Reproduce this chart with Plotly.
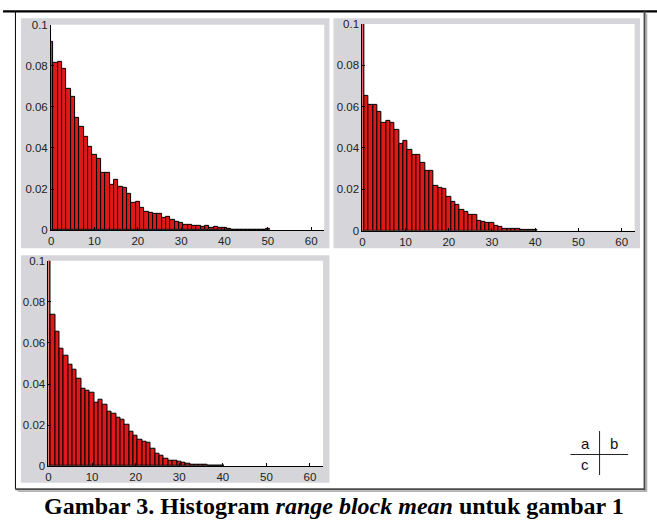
import plotly.graph_objects as go

W, H = 657, 524

# ---------------- data ----------------
bins = list(range(64))
x_ticks = [0, 10, 20, 30, 40, 50, 60]
x_ticktext = ["0", "10", "20", "30", "40", "50", "60"]
y_ticks = [0, 0.02, 0.04, 0.06, 0.08, 0.1]
y_ticktext = ["0", "0.02", "0.04", "0.06", "0.08", "0.1"]

hist_a = [0.0917, 0.0814, 0.0819, 0.0786, 0.0686, 0.0648, 0.0549, 0.0503, 0.0454, 0.0406,
          0.0368, 0.0346, 0.0281, 0.0278, 0.0222, 0.0243, 0.0209, 0.0205, 0.0176, 0.0133,
          0.0138, 0.0107, 0.0091, 0.0085, 0.0081, 0.0081, 0.0058, 0.0063, 0.0048, 0.0042,
          0.0037, 0.0025, 0.0024, 0.0019, 0.0019, 0.0016, 0.0021, 0.0013, 0.0016, 0.0013,
          0.0013, 0.0008, 0.0003, 0.0003, 0.0002, 0.0002, 0.0002, 0.0002, 0.0001, 0.0001,
          0.0005]

hist_b = [0.1, 0.065, 0.061, 0.061, 0.0575, 0.052, 0.053, 0.0522, 0.0487, 0.042,
          0.0434, 0.039, 0.0368, 0.0365, 0.0327, 0.0289, 0.0287, 0.0216, 0.0207, 0.0204,
          0.0165, 0.014, 0.0125, 0.0099, 0.0089, 0.0078, 0.0075, 0.005, 0.0045, 0.0037,
          0.0037, 0.0022, 0.0017, 0.0011, 0.0008, 0.0008, 0.0008, 0.0003, 0.0003, 0.0002,
          0.0002]

hist_c = [0.1, 0.0735, 0.0653, 0.0573, 0.0538, 0.0494, 0.0468, 0.0427, 0.0379, 0.0369,
          0.0356, 0.0308, 0.0324, 0.0299, 0.0265, 0.0257, 0.0235, 0.0226, 0.0200, 0.0170,
          0.0148, 0.0131, 0.0118, 0.0112, 0.0085, 0.0062, 0.0050, 0.0038, 0.0029, 0.0029,
          0.0021, 0.0018, 0.0013, 0.0008, 0.0006, 0.0005, 0.0005, 0.0002, 0.0002, 0.0001,
          0.0001]

panel_labels = ["a", "b", "c"]
caption_html = "<b>Gambar 3. Histogram <i>range block mean</i> untuk gambar 1</b>"

# ---------------- layout helpers (pixel -> paper) ----------------
def fx(x):
    return x / W


def fy(y):
    return 1 - y / H


# plot areas in pixels: (x0, x1, ytop, ybottom)
areas = [
    (48.3, 322.7, 19.3, 229.3),
    (361.0, 634.5, 18.3, 230.0),
    (45.7, 321.5, 260.7, 471.0),
]
# grey panel backgrounds in pixels
panels = [
    (18, 328, 12.5, 248),
    (332, 640, 12.5, 248),
    (18, 328, 255, 488),
]

fig = go.Figure()
series = [hist_a, hist_b, hist_c]
for i, vals in enumerate(series):
    sfx = "" if i == 0 else str(i + 1)
    fig.add_trace(go.Bar(
        x=bins[:len(vals)], y=vals, width=1,
        marker=dict(color="#e01818", line=dict(color="black", width=1)),
        xaxis="x" + sfx, yaxis="y" + sfx, showlegend=False,
        hoverinfo="skip",
    ))

tick_font = dict(family="Liberation Sans, Arial, sans-serif", size=11.5, color="#222222")
layout = dict(
    width=W, height=H,
    margin=dict(l=0, r=0, t=0, b=0),
    paper_bgcolor="white",
    plot_bgcolor="rgba(0,0,0,0)",
    bargap=0,
    showlegend=False,
)
for i, (x0, x1, yt, yb) in enumerate(areas):
    sfx = "" if i == 0 else str(i + 1)
    layout["xaxis" + sfx] = dict(
        domain=[fx(x0), fx(x1)], anchor="y" + sfx, range=[0, 63],
        showline=True, linecolor="black", linewidth=1,
        ticks="inside", ticklen=3, tickcolor="black", tickwidth=1,
        tickvals=x_ticks, ticktext=x_ticktext, tickfont=tick_font,
        showgrid=False, zeroline=False, fixedrange=True,
    )
    layout["yaxis" + sfx] = dict(
        domain=[fy(yb), fy(yt)], anchor="x" + sfx, range=[0, 0.1],
        showline=True, linecolor="black", linewidth=1,
        ticks="inside", ticklen=3, tickcolor="black", tickwidth=1,
        tickvals=y_ticks, ticktext=y_ticktext, tickfont=tick_font,
        showgrid=False, zeroline=False, fixedrange=True,
    )
fig.update_layout(**layout)

shapes = []
for (x0, x1, yt, yb) in panels:
    shapes.append(dict(type="rect", xref="paper", yref="paper", layer="below",
                       x0=fx(x0), x1=fx(x1), y0=fy(yb), y1=fy(yt),
                       fillcolor="#d6d6da", line=dict(width=0)))
for (x0, x1, yt, yb) in areas:
    shapes.append(dict(type="rect", xref="paper", yref="paper", layer="below",
                       x0=fx(x0), x1=fx(x1), y0=fy(yb), y1=fy(yt),
                       fillcolor="white", line=dict(width=0)))


def line(x0, y0, x1, y1, color, width):
    shapes.append(dict(type="line", xref="paper", yref="paper", layer="above",
                       x0=fx(x0), y0=fy(y0), x1=fx(x1), y1=fy(y1),
                       line=dict(color=color, width=width)))


# outer frame
line(0, 5.5, W, 5.5, "black", 2.2)
line(12.5, 5.5, 12.5, 494.5, "black", 1)
line(12.5, 494.5, 645, 494.5, "#4a4a4a", 2)
line(15, 496.5, 647, 496.5, "#b0b0b0", 1.5)
line(644.5, 5.5, 644.5, 495.5, "#4a4a4a", 2)
line(646.5, 8, 646.5, 497, "#b0b0b0", 1.5)

# a|b / c key
line(570, 459, 628, 459, "#222222", 1)
line(599.3, 435, 599.3, 480, "#222222", 1)

fig.update_layout(shapes=shapes)

key_font = dict(family="Liberation Sans, Arial, sans-serif", size=15, color="#111111")
key_pos = [(585, 448), (614, 448), (585, 469)]
annotations = []
for lab, (kx, ky) in zip(panel_labels, key_pos):
    annotations.append(dict(xref="paper", yref="paper", x=fx(kx), y=fy(ky),
                            text=lab, showarrow=False, font=key_font,
                            xanchor="center", yanchor="middle"))
annotations.append(dict(xref="paper", yref="paper", x=fx(332.5), y=fy(512),
                        text=caption_html, showarrow=False,
                        font=dict(family="Liberation Serif, Times New Roman, serif",
                                  size=24, color="black"),
                        xanchor="center", yanchor="middle"))
fig.update_layout(annotations=annotations)

fig.write_html("out.html")
